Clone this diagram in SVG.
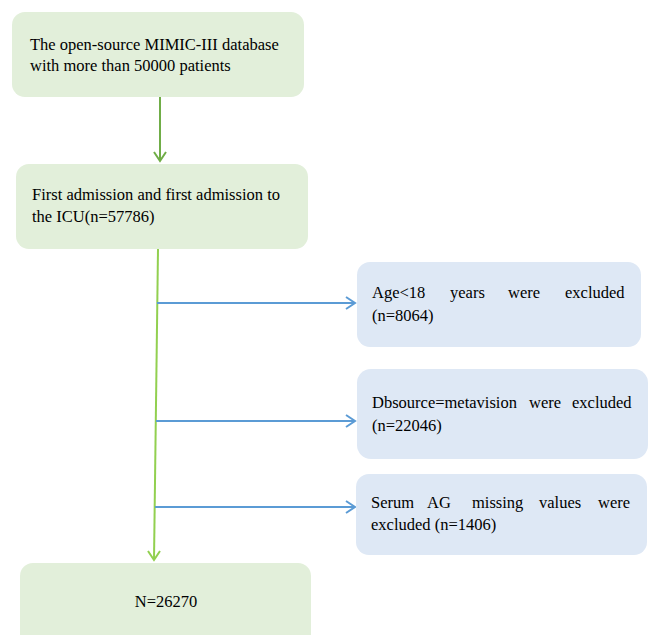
<svg xmlns="http://www.w3.org/2000/svg" width="649" height="635" viewBox="0 0 649 635">
<style>
.g{fill:#e2efda}
.b{fill:#dee8f5}
text{font-family:'Liberation Serif','Times New Roman','DejaVu Serif',serif;font-size:16.5px;fill:#000000}
.cg{stroke:#70ad47;stroke-width:2;fill:none}
.cl{stroke:#92d050;stroke-width:2;fill:none}
.cb{stroke:#5b9bd5;stroke-width:2;fill:none}
</style>
<rect width="649" height="635" fill="#ffffff"/>
<g id="connectors">
<line class="cg" x1="160" y1="97" x2="160" y2="161"/>
<polyline class="cg" points="154,152 160,161 166,152"/>
<line class="cl" x1="158" y1="249" x2="154" y2="560"/>
<polyline class="cl" points="148,551 154,560 160,551"/>
<line class="cb" x1="157" y1="303" x2="355" y2="303"/>
<polyline class="cb" points="346,297 355,303 346,309"/>
<line class="cb" x1="156" y1="421" x2="355" y2="421"/>
<polyline class="cb" points="346,415 355,421 346,427"/>
<line class="cb" x1="155" y1="507" x2="355" y2="507"/>
<polyline class="cb" points="346,501 355,507 346,513"/>
</g>
<g id="n1">
<rect class="g" x="12" y="12" width="292" height="85" rx="13"/>
<text x="30" y="50">The open-source MIMIC-III database</text>
<text x="30" y="71">with more than 50000 patients</text>
</g>
<g id="n2">
<rect class="g" x="16" y="164" width="292" height="85" rx="13"/>
<text x="32" y="200">First admission and first admission to</text>
<text x="32" y="222">the ICU(n=57786)</text>
</g>
<g id="n3">
<rect class="b" x="357" y="262" width="284" height="85" rx="13"/>
<text y="298"><tspan x="372">Age&lt;18</tspan><tspan x="450">years</tspan><tspan x="508">were</tspan><tspan x="565">excluded</tspan></text>
<text x="372" y="321">(n=8064)</text>
</g>
<g id="n4">
<rect class="b" x="357" y="369" width="291" height="90" rx="14"/>
<text y="408"><tspan x="372">Dbsource=metavision</tspan><tspan x="529">were</tspan><tspan x="572">excluded</tspan></text>
<text x="372" y="431">(n=22046)</text>
</g>
<g id="n5">
<rect class="b" x="356" y="474" width="291" height="81" rx="13"/>
<text y="508"><tspan x="371">Serum</tspan><tspan x="427">AG</tspan><tspan x="472">missing</tspan><tspan x="539">values</tspan><tspan x="598">were</tspan></text>
<text x="371" y="530">excluded (n=1406)</text>
</g>
<g id="n6">
<rect class="g" x="20" y="563" width="291" height="90" rx="13"/>
<text x="166" y="607" text-anchor="middle">N=26270</text>
</g>
</svg>
